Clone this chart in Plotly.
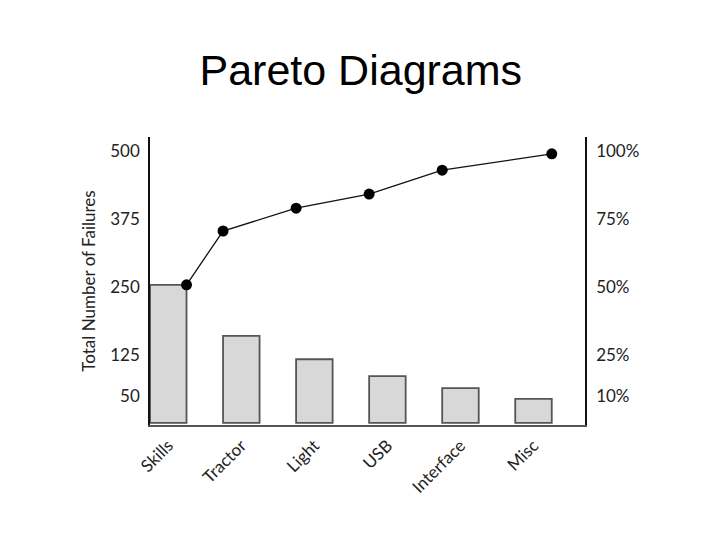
import plotly.graph_objects as go

categories = ["Skills", "Tractor", "Light", "USB", "Interface", "Misc"]
failures = [254, 160, 117, 86, 64, 44]
cumulative = [254, 353, 395, 421, 465, 495]
left_ticks = [500, 375, 250, 125, 50]
right_ticks = [100, 75, 50, 25, 10]
right_labels = ["100%", "75%", "50%", "25%", "10%"]

BAR_W = 0.5
idx = list(range(len(categories)))
# line points sit on bar edges: right edge of first/last bar, left edge otherwise
line_x = [i + (BAR_W / 2 if i in (0, len(idx) - 1) else -BAR_W / 2) for i in idx]

Y_RANGE = [-4, 526]
SCALE = 5.0  # count per percent (500 = 100%)

FONT = "Lato, 'Open Sans', sans-serif"

fig = go.Figure()
fig.add_trace(go.Bar(
    x=idx, y=failures, width=BAR_W,
    marker=dict(color="#d8d8d8", line=dict(color="#555555", width=1.8)),
    showlegend=False, hoverinfo="skip",
))
fig.add_trace(go.Scatter(
    x=line_x, y=cumulative, mode="lines+markers",
    line=dict(color="#111111", width=1.3),
    marker=dict(color="#000000", size=11),
    showlegend=False,
))
# invisible trace to anchor the secondary axis
fig.add_trace(go.Scatter(
    x=[idx[0]], y=[right_ticks[0]], yaxis="y2", mode="markers",
    marker=dict(opacity=0), showlegend=False, hoverinfo="skip",
))

fig.update_layout(
    width=720, height=540,
    margin=dict(l=142, r=143, t=129, b=123, autoexpand=False),
    paper_bgcolor="white", plot_bgcolor="white",
    title=dict(text="Pareto Diagrams", x=0.49, xanchor="center", y=0.885, yanchor="middle",
               font=dict(family="Liberation Sans, Arial, sans-serif", size=43, color="#000")),
    font=dict(family=FONT, color="#222"),
    xaxis=dict(
        range=[-0.25, 5.705], tickvals=idx, ticktext=categories, tickangle=-45,
        showgrid=False, zeroline=False, showline=True, linecolor="#555555", linewidth=2,
        ticks="", tickfont=dict(size=17, family=FONT, color="#222"), ticklabelstandoff=2,
    ),
    yaxis=dict(
        range=Y_RANGE, tickvals=left_ticks, ticktext=[str(v) for v in left_ticks],
        showgrid=False, zeroline=False, showline=True, linecolor="#111111", linewidth=1.5,
        ticks="", tickfont=dict(size=17, family=FONT, color="#222"), ticklabelstandoff=5,
        title=dict(text="Total Number of Failures", font=dict(size=17, family=FONT, color="#222"), standoff=10),
    ),
    yaxis2=dict(
        overlaying="y", side="right",
        range=[Y_RANGE[0] / SCALE, Y_RANGE[1] / SCALE],
        tickvals=right_ticks, ticktext=right_labels,
        showgrid=False, zeroline=False, showline=True, linecolor="#111111", linewidth=1.5,
        ticks="", tickfont=dict(size=17, family=FONT, color="#222"), ticklabelstandoff=6,
    ),
)

fig.write_html("out.html")
